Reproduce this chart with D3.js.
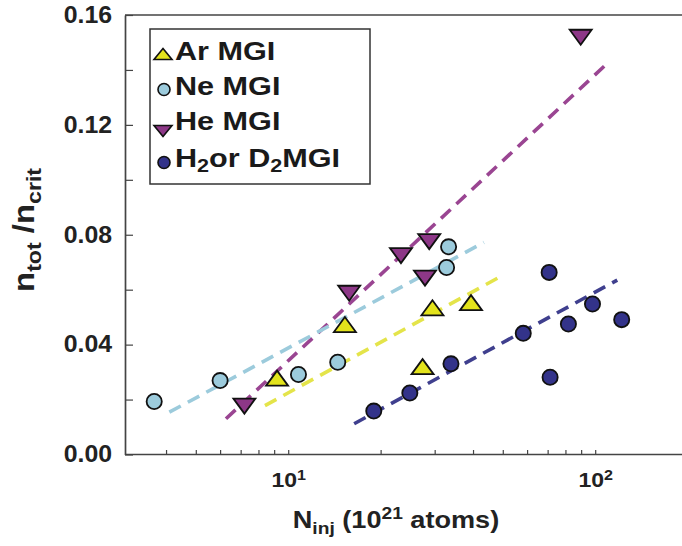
<!DOCTYPE html>
<html>
<head>
<meta charset="utf-8">
<script src="https://cdn.jsdelivr.net/npm/d3@7/dist/d3.min.js"></script>
<style>
  body { margin: 0; background: #fff; }
  svg { display: block; font-family: "Liberation Sans", Arial, sans-serif; }
</style>
</head>
<body>
<svg id="chart" width="682" height="546"></svg>
<script>
// Injected atoms (10^21) and normalised density n_tot/n_crit for each gas
const arInj  = [9.2, 15.3, 29.5, 39.4, 27.4];
const arFrac = [0.0278, 0.0473, 0.0534, 0.0553, 0.0320];

const neInj  = [3.66, 6.0, 10.8, 14.5, 33.3, 32.8];
const neFrac = [0.0193, 0.0269, 0.0291, 0.0336, 0.0756, 0.0681];

const heInj  = [7.2, 15.8, 23.3, 28.8, 27.9, 89.7];
const heFrac = [0.0176, 0.0587, 0.0724, 0.0775, 0.0642, 0.1519];

const hdInj  = [19.0, 24.9, 33.9, 58.3, 70.8, 71.3, 81.8, 98.0, 122.0];
const hdFrac = [0.0158, 0.0224, 0.0330, 0.0441, 0.0663, 0.0281, 0.0475, 0.0548, 0.0491];

// Trend lines (start and end of each fit)
const arFitInj = [8.4, 49.0],  arFitFrac = [0.0178, 0.0647];
const neFitInj = [4.1, 43.4],  neFitFrac = [0.0154, 0.0772];
const heFitInj = [6.27, 111.0], heFitFrac = [0.0130, 0.1430];
const hdFitInj = [16.4, 118.0], hdFitFrac = [0.0112, 0.0635];

// Axis ticks
const xTickValues = [4, 5, 6, 7, 8, 9, 10, 20, 30, 40, 50, 60, 70, 80, 90, 100];
const xLabelExponents = {10: "1", 100: "2"};
const yTickValues = [0, 0.02, 0.04, 0.06, 0.08, 0.10, 0.12, 0.14, 0.16];
const yLabelValues = [0, 0.04, 0.08, 0.12, 0.16];

const svg = d3.select("#chart");

const x = d3.scaleLog().domain([2.94, 200]).range([125, 687.6]);
const y = d3.scaleLinear().domain([0, 0.16]).range([454.5, 15]);

const axisColor = "#444";

// ---- axes ----
const xAxis = d3.axisBottom(x)
  .tickValues(xTickValues)
  .tickSize(-4.5)
  .tickSizeOuter(0)
  .tickPadding(18)
  .tickFormat(d => xLabelExponents[d] ? "10" : "");

const gx = svg.append("g").attr("transform", `translate(0,${y(0)})`).call(xAxis);
gx.select(".domain").attr("stroke", axisColor).attr("stroke-width", 1.7)
  .attr("d", `M125,0H682`);
gx.selectAll(".tick line").attr("stroke", axisColor).attr("stroke-width", 1.2);
gx.selectAll(".tick text")
  .attr("fill", "#222")
  .attr("font-size", 20)
  .attr("font-weight", "bold")
  .attr("transform", "scale(1.15,1)")
  .each(function(d) {
    if (xLabelExponents[d]) {
      d3.select(this).append("tspan")
        .attr("font-size", 14)
        .attr("dy", "-0.45em")
        .text(xLabelExponents[d]);
    }
  });

const yAxis = d3.axisLeft(y)
  .tickValues(yTickValues)
  .tickSize(-8)
  .tickSizeOuter(0)
  .tickPadding(12)
  .tickFormat(d => yLabelValues.some(v => Math.abs(v - d) < 1e-9) ? d3.format(".2f")(d) : "");

const gy = svg.append("g").attr("transform", "translate(125,0)").call(yAxis);
gy.select(".domain").attr("stroke", axisColor).attr("stroke-width", 1.7);
gy.selectAll(".tick line").attr("stroke", axisColor).attr("stroke-width", 1.2);
gy.selectAll(".tick text")
  .attr("fill", "#222")
  .attr("font-size", 23)
  .attr("font-weight", "bold")
  .attr("transform", "scale(1.08,1)");

// top frame line
svg.append("line")
  .attr("x1", 125).attr("x2", 682)
  .attr("y1", y(0.16)).attr("y2", y(0.16))
  .attr("stroke", axisColor).attr("stroke-width", 1.7);

// ---- axis titles ----
const xTitle = svg.append("g").attr("transform", "translate(396,528) scale(1.13,1)")
  .append("text")
  .attr("text-anchor", "middle")
  .attr("font-size", 24)
  .attr("font-weight", "bold")
  .attr("fill", "#222");
xTitle.append("tspan").text("N");
xTitle.append("tspan").attr("font-size", 17).attr("dy", 6).text("inj");
xTitle.append("tspan").attr("dy", -6).text(" (10");
xTitle.append("tspan").attr("font-size", 17).attr("dy", -9).text("21");
xTitle.append("tspan").attr("dy", 9).text(" atoms)");

const yTitle = svg.append("g").attr("transform", "translate(34,292) rotate(-90) scale(1.1,1)")
  .append("text")
  .attr("text-anchor", "start")
  .attr("font-size", 30)
  .attr("font-weight", "bold")
  .attr("fill", "#222");
yTitle.append("tspan").text("n");
yTitle.append("tspan").attr("font-size", 21).attr("dy", 7).text("tot");
yTitle.append("tspan").attr("dy", -7).text(" /n");
yTitle.append("tspan").attr("font-size", 21).attr("dy", 7).text("crit");

// ---- series definitions ----
const series = [
  {name: "Ar MGI", inj: arInj, frac: arFrac, fitInj: arFitInj, fitFrac: arFitFrac,
   shape: "up", fill: "#e3e31c", line: "#e4e44a"},
  {name: "Ne MGI", inj: neInj, frac: neFrac, fitInj: neFitInj, fitFrac: neFitFrac,
   shape: "circle", fill: "#9ccbdc", line: "#9ccbdc"},
  {name: "He MGI", inj: heInj, frac: heFrac, fitInj: heFitInj, fitFrac: heFitFrac,
   shape: "down", fill: "#8d3787", line: "#9a4592"},
  {name: "H2 or D2 MGI", inj: hdInj, frac: hdFrac, fitInj: hdFitInj, fitFrac: hdFitFrac,
   shape: "circle", fill: "#33338a", line: "#3f3f8e"}
];

function markerPath(shape, w, h) {
  if (shape === "up")   return `M${-w/2},${h/2}L${w/2},${h/2}L0,${-h/2}Z`;
  if (shape === "down") return `M${-w/2},${-h/2}L${w/2},${-h/2}L0,${h/2}Z`;
  return null;
}

// ---- dashed trend lines ----
const lineGen = d3.line().x(d => x(d[0])).y(d => y(d[1]));
const lineOrder = [series[2], series[1], series[0], series[3]];
lineOrder.forEach(s => {
  svg.append("path")
    .datum(d3.zip(s.fitInj, s.fitFrac))
    .attr("d", lineGen)
    .attr("fill", "none")
    .attr("stroke", s.line)
    .attr("stroke-width", 3.6)
    .attr("stroke-dasharray", "13,8");
});

// ---- markers ----
const markerOrder = [series[1], series[0], series[3], series[2]];
markerOrder.forEach(s => {
  const pts = d3.zip(s.inj, s.frac);
  const g = svg.append("g");
  if (s.shape === "circle") {
    g.selectAll("circle").data(pts).join("circle")
      .attr("cx", d => x(d[0])).attr("cy", d => y(d[1]))
      .attr("r", 7.6)
      .attr("fill", s.fill)
      .attr("stroke", "#111").attr("stroke-width", 1.8);
  } else {
    g.selectAll("path").data(pts).join("path")
      .attr("transform", d => `translate(${x(d[0])},${y(d[1])})`)
      .attr("d", markerPath(s.shape, 22, 15))
      .attr("fill", s.fill)
      .attr("stroke", "#111").attr("stroke-width", 1.8)
      .attr("stroke-linejoin", "miter");
  }
});

// ---- legend ----
const legend = svg.append("g");
legend.append("rect")
  .attr("x", 150).attr("y", 29).attr("width", 220).attr("height", 155)
  .attr("fill", "#fff").attr("stroke", "#333").attr("stroke-width", 1.5);

const rowBaselines = [60, 94.5, 130, 166.5];
const markerOffsets = [-6, -5, 1, -4];
series.forEach((s, i) => {
  const by = rowBaselines[i];
  const my = by + markerOffsets[i];
  if (s.shape === "circle") {
    legend.append("circle")
      .attr("cx", 164).attr("cy", my).attr("r", 6)
      .attr("fill", s.fill).attr("stroke", "#111").attr("stroke-width", 1.6);
  } else {
    legend.append("path")
      .attr("transform", `translate(163,${my})`)
      .attr("d", markerPath(s.shape, 18, 11))
      .attr("fill", s.fill).attr("stroke", "#111").attr("stroke-width", 1.6);
  }
  const t = legend.append("g").attr("transform", `translate(175,${by}) scale(1.2,1)`)
    .append("text")
    .attr("font-size", 25.5)
    .attr("font-weight", "bold")
    .attr("fill", "#1a1a1a");
  if (s.name === "H2 or D2 MGI") {
    t.append("tspan").text("H");
    t.append("tspan").attr("font-size", 18).attr("dy", 5).text("2");
    t.append("tspan").attr("dy", -5).text("or D");
    t.append("tspan").attr("font-size", 18).attr("dy", 5).text("2");
    t.append("tspan").attr("dy", -5).text("MGI");
  } else {
    t.text(s.name);
  }
});
</script>
</body>
</html>
